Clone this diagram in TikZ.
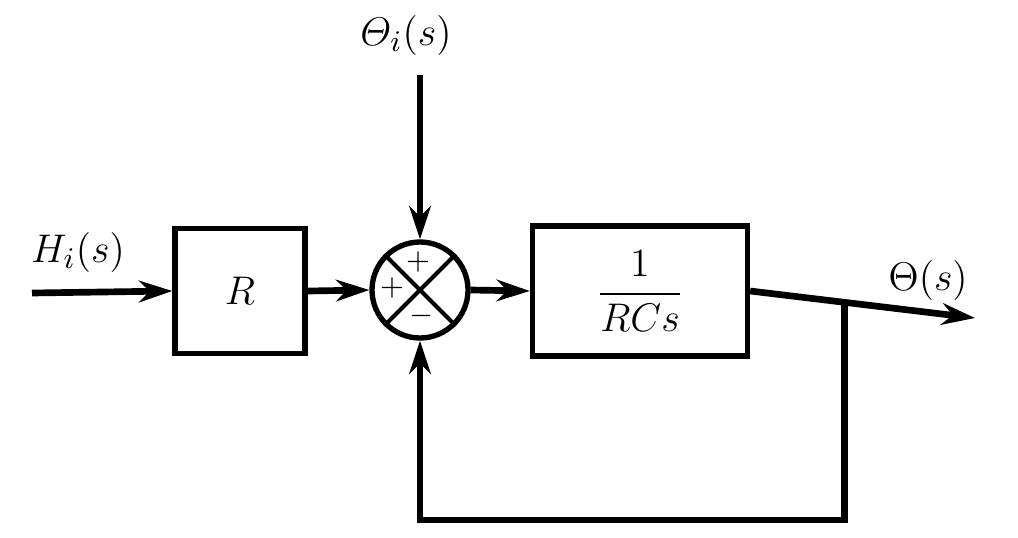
\documentclass[tikz,border=0pt]{standalone}
\usepackage{amsmath}
\usetikzlibrary{arrows.meta,calc}
\begin{document}
\begin{tikzpicture}[x=0.3pt,y=-0.3pt,
  blk/.style={draw,line width=1.6pt,inner sep=0pt,font=\fontsize{12.5}{15}\selectfont},
  sumc/.style={draw,circle,line width=1.6pt,minimum size=28.8pt,inner sep=0pt},
  sig/.style={line width=2pt,-{Stealth[length=10pt,width=6.5pt]}},
  lbl/.style={font=\fontsize{12.5}{15}\selectfont},
  sgn/.style={font=\fontsize{9.5}{10}\selectfont,inner sep=0pt}]
\useasboundingbox (0,0) rectangle (1018,537);
% blocks
\node[blk,minimum width=39pt,minimum height=37.5pt] (R) at (240,291) {$R$};
\node[sumc] (S) at (420,290) {};
\node[blk,minimum width=64.5pt,minimum height=39pt] (G) at (640,291) {$\dfrac{1}{RCs}$};
% summing junction details
\draw[line width=1.2pt] (S.45) -- (S.225);
\draw[line width=1.2pt] (S.135) -- (S.315);
\node[sgn] (p1) at ($(S.center)+(-2,-28)$) {$+$};
\node[sgn] (p2) at ($(S.center)+(-28,-2)$) {$+$};
\node[sgn] (m1) at ($(S.center)+(1,26)$) {$-$};
% coordinates
\coordinate (in) at (32,293);
\coordinate (top) at (S.north |- 0,75);
\coordinate (out) at (975,318);
\coordinate (br) at ($(G.east)!0.42!(out)$);
\coordinate (fb1) at (br |- 0,520);
\coordinate (fb2) at (S.south |- 0,520);
% labels
\node[lbl] (Hl) at (78,252) {$H_i(s)$};
\node[lbl] (Tl) at (406,35) {$\varTheta_i(s)$};
\node[lbl] (Ol) at (928,280) {$\Theta(s)$};
% connectors
\draw[sig] (in) -- (R.west);
\draw[sig] (R.east) -- (S.west);
\draw[sig] (top) -- (S.north);
\draw[sig] (S.east) -- (G.west);
\draw[sig] (G.east) -- (out);
\draw[sig] (br) -- (fb1) -- (fb2) -- (S.south);
\end{tikzpicture}
\end{document}
